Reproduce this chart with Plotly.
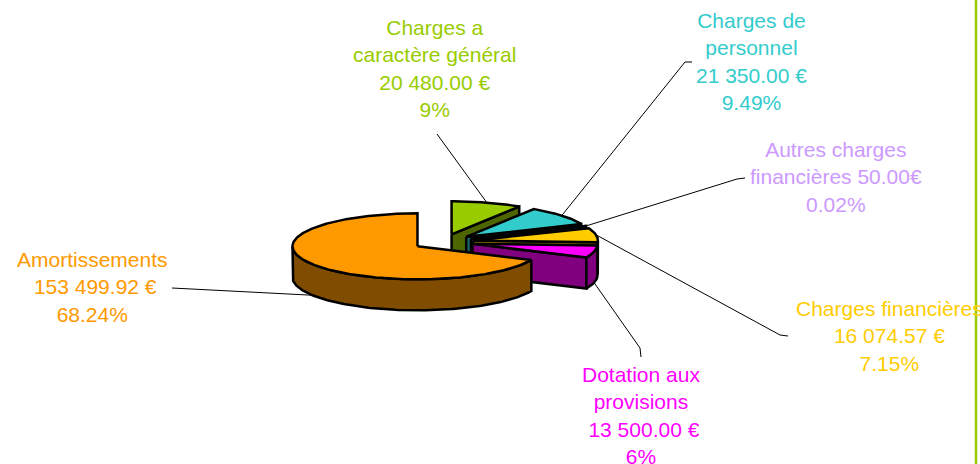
import numpy as np
import plotly.graph_objects as go

# ---------------- data ----------------
categories = ["Charges a caractère général", "Charges de personnel",
              "Autres charges financières", "Charges financières",
              "Dotation aux provisions", "Amortissements"]
amounts = [20480.00, 21350.00, 50.00, 16074.57, 13500.00, 153499.92]
amount_labels = ["20 480.00 €", "21 350.00 €", "50.00€", "16 074.57 €",
                 "\u00a013 500.00 €", "\u00a0153 499.92 €"]
percent_labels = ["9%", "9.49%", "0.02%", "7.15%", "6%", "68.24%"]
name_lines = [["Charges a", "caractère général"],
              ["Charges de", "personnel"],
              ["Autres charges", "financières"],
              ["Charges financières"],
              ["Dotation aux", "provisions"],
              ["Amortissements"]]

# ---------------- styles ----------------
top_colors = ["#99CC00", "#33CCCC", "#CC99FF", "#FFCC00", "#FF00FF", "#FF9900"]
side_colors = ["#4D6600", "#1A6666", "#664C80", "#806600", "#800080", "#7F4C00"]
label_colors = top_colors
W, H = 980, 464
C0 = (443.0, 242.0)      # pie centre (pixels)
RX, RY = 125.0, 33.0     # ellipse radii
DEPTH = 31.0             # thickness of the pie
PULL = 0.243             # explosion
OUTLINE = 2.5
label_pos = [(434.5, 68.5), (751, 61.5), (835.5, 177), (889, 336), (641, 415), (92, 287)]
leader_anchor = ["top", "top", "top", "top", "bottom", "bottom"]
leader_ends = [[(437, 134)],
               [(685, 62), (692, 62)],
               [(737, 179), (745, 178)],
               [(780, 335), (788, 336)],
               [(640, 348), (641, 357)],
               [(172, 288)]]

# ---------------- geometry from data ----------------
vals = np.array(amounts, dtype=float)
frac = vals / vals.sum()
ends = np.cumsum(frac) * 2 * np.pi
starts = ends - frac * 2 * np.pi
mids = (starts + ends) / 2


def centre(i):
    m = mids[i]
    return (C0[0] + PULL * RX * np.sin(m), C0[1] - PULL * RY * np.cos(m))


def pt(c, th, dz=0.0):
    return (c[0] + RX * np.sin(th), c[1] - RY * np.cos(th) + dz)


def arc(c, a0, a1, dz=0.0):
    n = max(2, int(abs(a1 - a0) * 180 / np.pi) + 2)
    th = np.linspace(a0, a1, n)
    return [pt(c, t, dz) for t in th]


fig = go.Figure()


def poly(points, fill, width=OUTLINE):
    xs = [p[0] for p in points] + [points[0][0]]
    ys = [p[1] for p in points] + [points[0][1]]
    fig.add_trace(go.Scatter(x=xs, y=ys, mode="lines", fill="toself",
                             fillcolor=fill, line=dict(color="black", width=width),
                             hoverinfo="skip", showlegend=False))


order = sorted(range(len(vals)), key=lambda i: -np.cos(mids[i]))
for i in order:
    c = centre(i)
    a0, a1 = starts[i], ends[i]
    cb = (c[0], c[1] + DEPTH)
    # radial faces
    if np.sin(a0) < -1e-6:
        poly([c, pt(c, a0), pt(c, a0, DEPTH), cb], side_colors[i])
    if np.sin(a1) > 1e-6:
        poly([c, pt(c, a1), pt(c, a1, DEPTH), cb], side_colors[i])
    # outer curved side (front half only)
    s0, s1 = max(a0, np.pi / 2), min(a1, 3 * np.pi / 2)
    if s1 > s0:
        top = arc(c, s0, s1)
        bot = arc(c, s0, s1, DEPTH)[::-1]
        poly(top + bot, side_colors[i])
    # top surface
    poly([c] + arc(c, a0, a1), top_colors[i])

# leader lines
for i in range(len(vals)):
    c = centre(i)
    dz = DEPTH if leader_anchor[i] == "bottom" else 0.0
    a = pt(c, mids[i], dz)
    pts = [a] + leader_ends[i]
    fig.add_trace(go.Scatter(x=[p[0] for p in pts], y=[p[1] for p in pts], mode="lines",
                             line=dict(color="black", width=1), hoverinfo="skip",
                             showlegend=False))

# labels
annotations = []
for i in range(len(vals)):
    if i == 2:
        lines = [name_lines[i][0], name_lines[i][1] + " " + amount_labels[i], percent_labels[i]]
    else:
        lines = name_lines[i] + [amount_labels[i], percent_labels[i]]
    annotations.append(dict(x=label_pos[i][0], y=label_pos[i][1], xref="x", yref="y",
                            text="<br>".join(lines), showarrow=False,
                            xanchor="center", yanchor="middle", align="center",
                            font=dict(family="Liberation Sans, Arial, sans-serif",
                                      size=21, color=label_colors[i])))

fig.update_layout(
    width=W, height=H, margin=dict(l=0, r=0, t=0, b=0),
    paper_bgcolor="white", plot_bgcolor="white",
    xaxis=dict(range=[0, W], visible=False, fixedrange=True),
    yaxis=dict(range=[H, 0], visible=False, fixedrange=True),
    annotations=annotations,
    shapes=[dict(type="line", xref="x", yref="y", x0=976, x1=976, y0=0, y1=H,
                 line=dict(color="#99CC00", width=2.5), layer="above")],
    showlegend=False,
)

fig.write_html("out.html")
